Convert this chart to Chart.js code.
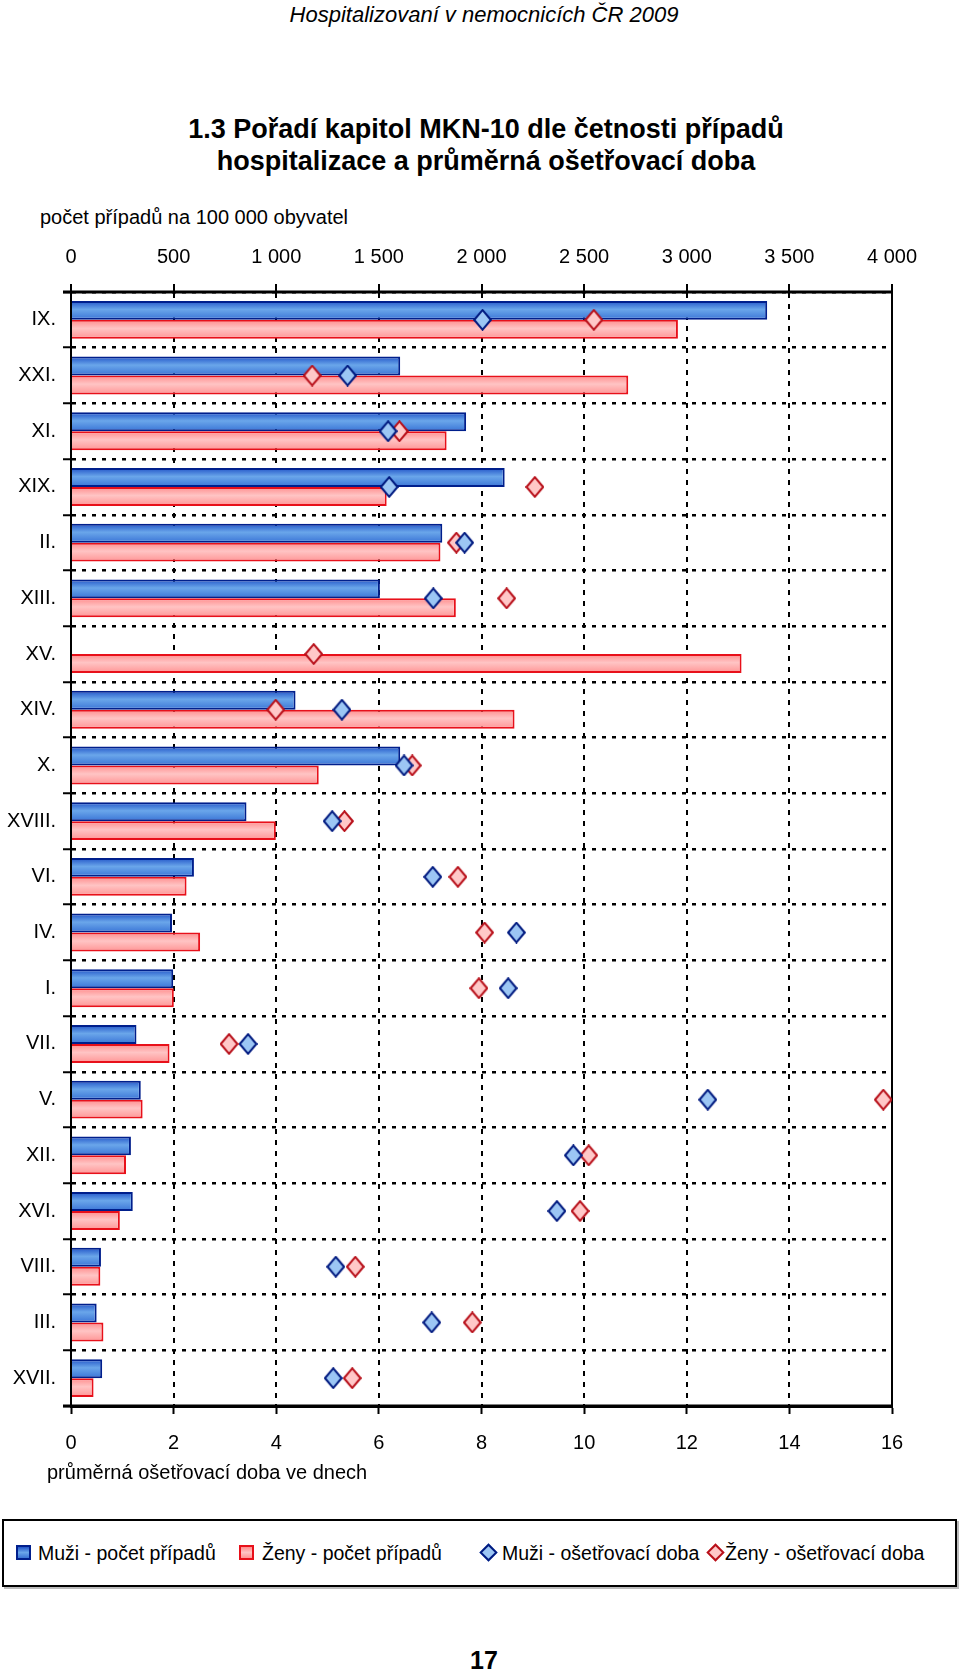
<!DOCTYPE html>
<html lang="cs">
<head>
<meta charset="utf-8">
<title>Hospitalizovaní v nemocnicích ČR 2009</title>
<script src="https://cdn.jsdelivr.net/npm/chart.js@4.4.1/dist/chart.umd.min.js"></script>
<style>
  body { margin: 0; background: #fff; }
  #page { position: relative; width: 960px; height: 1672px; overflow: hidden;
          font-family: "Liberation Sans", Arial, sans-serif; color: #000; }
  .txt { position: absolute; white-space: nowrap; }
  .center { left: 0; width: 960px; text-align: center; }
  #graf-box { position: absolute; left: 0; top: 230px; width: 960px; height: 1240px; }
  #legenda { position: absolute; left: 2px; top: 1519px; width: 951px; height: 64px;
             border: 2px solid #000; box-shadow: 2px 2px 0 #bbb; }
  .lg-txt { position: absolute; top: 0; line-height: 64px; font-size: 19.5px; white-space: nowrap; }
  .sq { position: absolute; top: 24px; width: 11px; height: 11px; border: 2px solid; }
  .dia { position: absolute; top: 25px; width: 9px; height: 9px; border: 2px solid; transform: rotate(45deg); }
</style>
</head>
<body>
<div id="page">
  <div class="txt center" style="top:3px; line-height:24px; font-size:22px; font-style:italic; margin-left:4px;">Hospitalizovaní v nemocnicích ČR 2009</div>
  <div class="txt center" style="top:113px; line-height:32px; font-size:27px; font-weight:bold; margin-left:6px;">1.3 Pořadí kapitol MKN-10 dle četnosti případů<br>hospitalizace a průměrná ošetřovací doba</div>
  <div class="txt" style="left:40px; top:205px; line-height:24px; font-size:20px;">počet případů na 100 000 obyvatel</div>

  <div id="graf-box"><canvas id="graf"></canvas></div>

  <div class="txt" style="left:47px; top:1460px; line-height:24px; font-size:20px;">průměrná ošetřovací doba ve dnech</div>

  <div id="legenda">
    <div class="sq" style="left:12px; border-color:#001f8c; background:linear-gradient(#2255c8,#6aa6ea,#3a74d6);"></div>
    <div class="lg-txt" style="left:34px;">Muži - počet případů</div>
    <div class="sq" style="left:235px; border-color:#e8101a; background:linear-gradient(#ff8c8c,#ffc4c4,#ff9494);"></div>
    <div class="lg-txt" style="left:258px;">Ženy - počet případů</div>
    <div class="dia" style="left:478px; border-color:#001a80; background:#9cc6f4;"></div>
    <div class="lg-txt" style="left:498px;">Muži - ošetřovací doba</div>
    <div class="dia" style="left:705px; border-color:#b8101a; background:#ffc8c8;"></div>
    <div class="lg-txt" style="left:721px;">Ženy - ošetřovací doba</div>
  </div>

  <div class="txt center" style="top:1646px; line-height:28px; font-size:25px; font-weight:bold; margin-left:4px;">17</div>
</div>

<script>
// kapitoly MKN-10 serazene dle cetnosti
const kapitoly = ['IX.', 'XXI.', 'XI.', 'XIX.', 'II.', 'XIII.', 'XV.', 'XIV.', 'X.', 'XVIII.',
                  'VI.', 'IV.', 'I.', 'VII.', 'V.', 'XII.', 'XVI.', 'VIII.', 'III.', 'XVII.'];

// pocet pripadu na 100 000 obyvatel
const muziPocet = [3392, 1604, 1925, 2113, 1809, 1505, null, 1094, 1604, 855,
                   599, 492, 498, 319, 340, 292, 301, 146, 125, 152];
const zenyPocet = [2957, 2715, 1830, 1538, 1800, 1875, 3267, 2161, 1207, 998,
                   563, 629, 501, 480, 349, 268, 238, 143, 158, 110];

// prumerna osetrovaci doba ve dnech
const muziDoba = [8.02, 5.39, 6.18, 6.20, 7.67, 7.06, null, 5.28, 6.49, 5.09,
                  7.05, 8.68, 8.52, 3.45, 12.41, 9.79, 9.47, 5.16, 7.03, 5.11];
const zenyDoba = [10.19, 4.70, 6.40, 9.04, 7.51, 8.49, 4.73, 3.99, 6.65, 5.33,
                  7.54, 8.06, 7.95, 3.08, 15.83, 10.09, 9.92, 5.54, 7.82, 5.48];

// osy
const pocetTicks = [0, 500, 1000, 1500, 2000, 2500, 3000, 3500, 4000];
const dobaTicks = [0, 2, 4, 6, 8, 10, 12, 14, 16];

const podilKategorie = 0.68;
const pismo = { family: '"Liberation Sans", Arial, sans-serif', size: 20 };

function mezery(v) {
    return String(v).replace(/\B(?=(\d{3})+(?!\d))/g, ' ');
}

// kosoctverec o neco vyssi nez sirsi
function kosoctverec(vypln, obrys) {
    const c = document.createElement('canvas');
    c.width = 19;
    c.height = 22;
    const g = c.getContext('2d');
    g.beginPath();
    g.moveTo(9.5, 1.2);
    g.lineTo(17.8, 11);
    g.lineTo(9.5, 20.8);
    g.lineTo(1.2, 11);
    g.closePath();
    g.fillStyle = vypln;
    g.fill();
    g.lineWidth = 2;
    g.strokeStyle = obrys;
    g.stroke();
    return c;
}

// prechod barvy pres vysku sloupce
function prechod(barvy, horni) {
    return function(c) {
        const chart = c.chart;
        const y = chart.scales.y;
        if (!y || c.dataIndex === undefined || !chart.chartArea) return barvy[1];
        const stred = y.getPixelForValue(c.dataIndex);
        const pul = (y.height / kapitoly.length) * podilKategorie / 2;
        const od = horni ? stred - pul : stred;
        const g = chart.ctx.createLinearGradient(0, od, 0, od + pul);
        g.addColorStop(0, barvy[0]);
        g.addColorStop(0.45, barvy[1]);
        g.addColorStop(1, barvy[2]);
        return g;
    };
}

const ramecek = {
    id: 'ramecek',
    beforeDatasetsDraw(chart) {
        const { ctx, chartArea: a } = chart;
        ctx.save();
        ctx.strokeStyle = '#000';
        ctx.lineWidth = 2;
        ctx.strokeRect(a.left, a.top, a.right - a.left, a.bottom - a.top);
        ctx.beginPath();
        ctx.lineWidth = 3;
        ctx.moveTo(a.left - 8, a.bottom);
        ctx.lineTo(a.right, a.bottom);
        ctx.moveTo(a.left - 8, a.top);
        ctx.lineTo(a.right, a.top);
        ctx.stroke();
        ctx.restore();
    }
};

new Chart(document.getElementById('graf'), {
    type: 'bar',
    data: {
        labels: kapitoly,
        datasets: [
            {
                type: 'line',
                label: 'Muži - ošetřovací doba',
                data: muziDoba,
                indexAxis: 'y',
                xAxisID: 'x2',
                yAxisID: 'y',
                showLine: false,
                pointStyle: kosoctverec('#9cc6f4', '#001a80'),
                pointRadius: 10,
                order: 0
            },
            {
                type: 'line',
                label: 'Ženy - ošetřovací doba',
                data: zenyDoba,
                indexAxis: 'y',
                xAxisID: 'x2',
                yAxisID: 'y',
                showLine: false,
                pointStyle: kosoctverec('#ffc8c8', '#b8101a'),
                pointRadius: 10,
                order: 0
            },
            {
                label: 'Muži - počet případů',
                data: muziPocet,
                xAxisID: 'x',
                backgroundColor: prechod(['#2255c8', '#6aa6ea', '#3a74d6'], true),
                borderColor: '#001f8c',
                borderWidth: 2,
                barPercentage: 1,
                categoryPercentage: podilKategorie,
                order: 1
            },
            {
                label: 'Ženy - počet případů',
                data: zenyPocet,
                xAxisID: 'x',
                backgroundColor: prechod(['#ff8c8c', '#ffc4c4', '#ff9494'], false),
                borderColor: '#e8101a',
                borderWidth: 2,
                barPercentage: 1,
                categoryPercentage: podilKategorie,
                order: 1
            }
        ]
    },
    options: {
        indexAxis: 'y',
        responsive: true,
        maintainAspectRatio: false,
        animation: false,
        layout: { padding: { left: 0, right: 68, top: 0, bottom: 0 } },
        plugins: {
            legend: { display: false },
            tooltip: { enabled: false }
        },
        scales: {
            x: {
                position: 'top',
                min: 0,
                max: 4000,
                afterBuildTicks: (s) => { s.ticks = pocetTicks.map(v => ({ value: v })); },
                ticks: { callback: (v) => mezery(v), color: '#000', font: pismo, padding: 15, maxRotation: 0 },
                grid: {
                    color: (c) => (c.index === 0 || c.index === pocetTicks.length - 1) ? 'rgba(0,0,0,0)' : '#000',
                    lineWidth: 2,
                    tickColor: '#000',
                    tickWidth: 2,
                    tickLength: 8
                },
                border: { display: true, color: '#000', width: 2, dash: [5, 6] },
                afterFit: (s) => { s.height = 62; }
            },
            x2: {
                position: 'bottom',
                min: 0,
                max: 16,
                afterBuildTicks: (s) => { s.ticks = dobaTicks.map(v => ({ value: v })); },
                ticks: { color: '#000', font: pismo, padding: 17, maxRotation: 0 },
                grid: { drawOnChartArea: false, color: '#000', tickColor: '#000', tickWidth: 2, tickLength: 8 },
                border: { display: true, color: '#000', width: 3 },
                afterFit: (s) => { s.height = 64; }
            },
            y: {
                type: 'category',
                offset: true,
                ticks: { color: '#000', font: pismo, padding: 7 },
                grid: {
                    offset: true,
                    color: '#000',
                    lineWidth: 2.5,
                    tickColor: '#000',
                    tickWidth: 2,
                    tickLength: 8
                },
                border: { display: true, color: '#000', width: 2, dash: [4, 6] },
                afterFit: (s) => { s.width = 71; }
            }
        }
    },
    plugins: [ramecek]
});
</script>
</body>
</html>
